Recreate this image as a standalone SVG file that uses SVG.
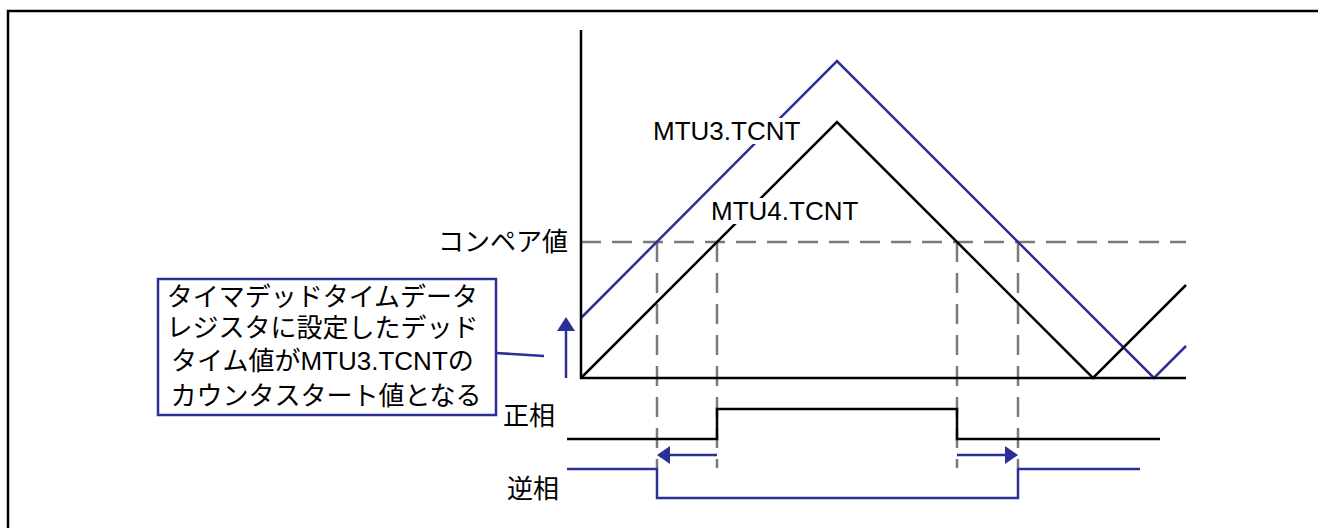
<svg xmlns="http://www.w3.org/2000/svg" width="1318" height="528" viewBox="0 0 1318 528">
<style>
.blk{fill:none;stroke:#000;stroke-width:2.5}
.blu{fill:none;stroke:#2b2f96;stroke-width:2.5}
.dash{fill:none;stroke:#7a7a7a;stroke-width:2.5;stroke-dasharray:20 11}
.t{font-family:"Liberation Sans","Noto Sans CJK JP",sans-serif;font-size:26px;fill:#000}
.j{font-family:"Noto Sans CJK JP",sans-serif;font-size:26px;fill:#000}
</style>
<rect x="8" y="11" width="1330" height="540" fill="#fff" stroke="#000" stroke-width="2.5"/>
<g id="connectors">
<polyline class="dash" points="581,242 1186,242"/>
<line class="dash" x1="657" y1="242" x2="657" y2="468"/>
<line class="dash" x1="717" y1="242" x2="717" y2="468"/>
<line class="dash" x1="957" y1="242" x2="957" y2="468"/>
<line class="dash" x1="1018" y1="242" x2="1018" y2="468"/>
<polyline class="blu" points="581,318 837,61 1154,378 1186,346"/>
<polyline class="blk" points="581,378 837,122 1093,378 1186,285"/>
<polyline class="blk" points="581,30 581,378 1186,378"/>
<polyline class="blk" points="567,439 717,439 717,409 957,409 957,439 1160,439"/>
<polyline class="blu" points="567,469 657,469 657,498 1018,498 1018,469 1140,469"/>
<line class="blu" x1="717" y1="455" x2="666" y2="455"/>
<path d="M657,455 L670,446 L670,464 z" fill="#2b2f96"/>
<line class="blu" x1="957" y1="455" x2="1008" y2="455"/>
<path d="M1018,455 L1005,446 L1005,464 z" fill="#2b2f96"/>
<line class="blu" x1="566" y1="378" x2="566" y2="330"/>
<path d="M566,317 L557,331 L575,331 z" fill="#2b2f96"/>
<line class="blu" x1="496" y1="353" x2="544" y2="356"/>
</g>
<g id="label-mtu3">
<rect x="651" y="118" width="152" height="26" fill="#fff"/>
<text class="t" x="653" y="140">MTU3.TCNT</text>
</g>
<g id="label-mtu4">
<rect x="709" y="198" width="152" height="26" fill="#fff"/>
<text class="t" x="711" y="220">MTU4.TCNT</text>
</g>
<g id="label-compare">
<text class="j" x="568" y="251" text-anchor="end">コンペア値</text>
</g>
<g id="label-pos">
<text class="j" x="503" y="425">正相</text>
</g>
<g id="label-neg">
<text class="j" x="507" y="498">逆相</text>
</g>
<g id="note">
<rect x="158" y="279" width="338" height="136" fill="#fff" stroke="#2b2f96" stroke-width="2.5"/>
<text class="t" text-anchor="middle">
<tspan x="326" y="306">タイマデッドタイムデータ</tspan>
<tspan x="326" y="337">レジスタに設定したデッド</tspan>
<tspan x="326" y="370">タイム値がMTU3.TCNTの</tspan>
<tspan x="326" y="405">カウンタスタート値となる</tspan>
</text>
</g>
</svg>
